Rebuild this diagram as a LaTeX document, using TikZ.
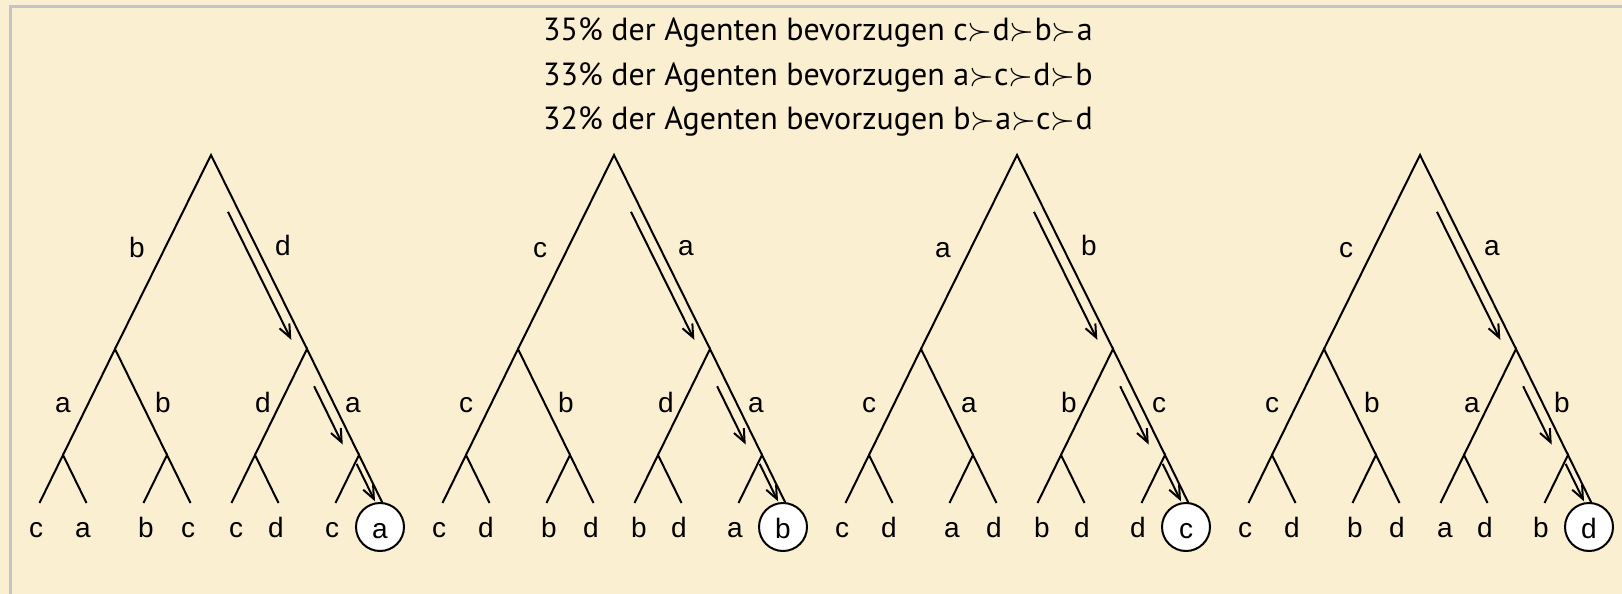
\RequirePackage{fix-cm}
\documentclass[tikz,border=0pt]{standalone}
\usepackage{fontspec}
\setmainfont{Liberation Sans}
\newfontfamily\titlefont{PT Sans}
\usetikzlibrary{arrows.meta,calc}
\definecolor{paper}{HTML}{FBEFD2}
\definecolor{frame}{HTML}{C4C4C4}
\tikzset{
  edge/.style={line width=2pt},
  move/.style={line width=2pt,-{Straight Barb[length=13pt,width=11pt]}},
  lbl/.style={anchor=base,inner sep=0pt,font=\fontsize{28}{30}\selectfont},
  winner/.style={circle,draw,fill=white,line width=2pt,minimum size=48pt,inner sep=0pt,
    text height=22pt,text depth=0pt,font=\fontsize{28}{30}\selectfont},
  pref/.style={anchor=west,inner sep=0pt,font=\titlefont\fontsize{32}{34}\selectfont}
}
\begin{document}
\begin{tikzpicture}[x=1pt,y=-1pt]
\useasboundingbox (0,0) rectangle (1622,594);
\fill[paper] (0,0) rectangle (1622,594);
\draw[frame,line width=3pt] (10,594) -- (10,7) -- (1622,7);
% preferences
\node[pref] (p1) at (543,32) {35\% der Agenten bevorzugen c$\succ$d$\succ$b$\succ$a};
\node[pref] (p2) at (543,77) {33\% der Agenten bevorzugen a$\succ$c$\succ$d$\succ$b};
\node[pref] (p3) at (543,121) {32\% der Agenten bevorzugen b$\succ$a$\succ$c$\succ$d};
% the four game trees
\foreach \i/\ea/\eb/\ec/\ed/\ee/\ef/\la/\lb/\lc/\ld/\le/\lf/\lg/\win in
  {0/b/d/a/b/d/a/c/a/b/c/c/d/c/a,
   1/c/a/c/b/d/a/c/d/b/d/b/d/a/b,
   2/a/b/c/a/b/c/c/d/a/d/b/d/d/c,
   3/c/a/c/b/a/b/c/d/b/d/a/d/b/d}{
\begin{scope}[shift={(211+403*\i,155)}]
  \coordinate (n\i) at (0,0);
  \coordinate (nl\i) at (-96,194);
  \coordinate (nr\i) at (96,194);
  \coordinate (nll\i) at (-148,300);
  \coordinate (nlr\i) at (-44,300);
  \coordinate (nrl\i) at (44,300);
  \coordinate (nrr\i) at (148,300);
  \coordinate (f\i-1) at (-171.5,348);
  \coordinate (f\i-2) at (-124.5,348);
  \coordinate (f\i-3) at (-67.5,348);
  \coordinate (f\i-4) at (-20.5,348);
  \coordinate (f\i-5) at (20.5,348);
  \coordinate (f\i-6) at (67.5,348);
  \coordinate (f\i-7) at (124.5,348);
  \coordinate (f\i-8) at (171.5,348);
  \node[winner] (w\i) at (169,372) {\win};
  \draw[edge] (nl\i) -- (n\i) -- (nr\i);
  \draw[edge] (nll\i) -- (nl\i) -- (nlr\i);
  \draw[edge] (nrl\i) -- (nr\i) -- (nrr\i);
  \draw[edge] (f\i-1) -- (nll\i) -- (f\i-2);
  \draw[edge] (f\i-3) -- (nlr\i) -- (f\i-4);
  \draw[edge] (f\i-5) -- (nrl\i) -- (f\i-6);
  \draw[edge] (f\i-7) -- (nrr\i) -- (f\i-8);
  % backward induction path
  \draw[move] ($(n\i)!0.27!(nr\i)!10pt!-90:(nr\i)$) -- ($(n\i)!0.93!(nr\i)!10pt!-90:(nr\i)$);
  \draw[move] ($(nr\i)!0.31!(nrr\i)!10pt!-90:(nrr\i)$) -- ($(nr\i)!0.86!(nrr\i)!10pt!-90:(nrr\i)$);
  \draw[move] ($(nrr\i)!0.13!(f\i-8)!6pt!-90:(f\i-8)$) -- ($(nrr\i)!0.91!(f\i-8)!6pt!-90:(f\i-8)$);
  % choices
  \node[lbl] (e\i-1) at (-74,102) {\ea};
  \node[lbl] (e\i-2) at (72,100) {\eb};
  \node[lbl] (e\i-3) at (-148,257) {\ec};
  \node[lbl] (e\i-4) at (-48,257) {\ed};
  \node[lbl] (e\i-5) at (52,257) {\ee};
  \node[lbl] (e\i-6) at (142,257) {\ef};
  % outcomes
  \node[lbl] (o\i-1) at (-175,382) {\la};
  \node[lbl] (o\i-2) at (-128,382) {\lb};
  \node[lbl] (o\i-3) at (-65,382) {\lc};
  \node[lbl] (o\i-4) at (-23,382) {\ld};
  \node[lbl] (o\i-5) at (25,382) {\le};
  \node[lbl] (o\i-6) at (65,382) {\lf};
  \node[lbl] (o\i-7) at (121,382) {\lg};
\end{scope}
}
\end{tikzpicture}
\end{document}
